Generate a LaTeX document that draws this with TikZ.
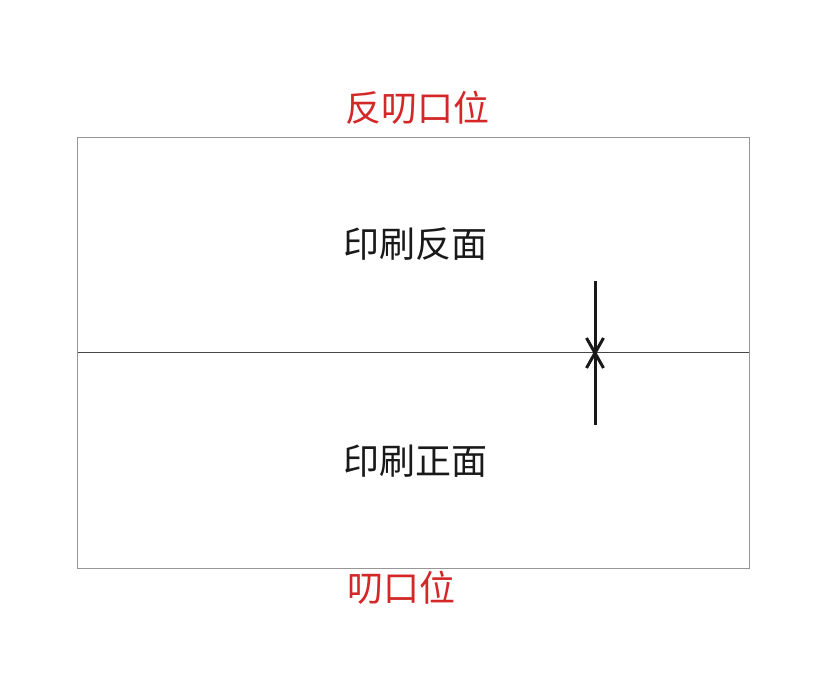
\documentclass[tikz,border=0pt]{standalone}
\usepackage{fontspec}
\newfontfamily\cjk{Noto Sans CJK SC}
\definecolor{redtxt}{RGB}{212,40,40}
\definecolor{boxgray}{RGB}{150,150,150}
\definecolor{midgray}{RGB}{70,70,70}
\definecolor{blk}{RGB}{25,25,25}
\begin{document}
\begin{tikzpicture}[x=1pt,y=-1pt,
  lbl/.style={font=\cjk\fontsize{36}{40}\selectfont, inner sep=0pt},
  redlbl/.style={lbl, text=redtxt},
  blklbl/.style={lbl, text=blk},
  stem/.style={line width=3pt, draw=blk},
  barb/.style={line width=3pt, draw=blk, line join=miter}]
\useasboundingbox (0,0) rectangle (831,700);
\draw[boxgray, line width=1pt] (77.5,137.5) rectangle (749,569);
\coordinate (ml) at (77.5,353);
\coordinate (mr) at (749,353);
\draw[midgray, line width=1pt] (ml) -- (mr);
\coordinate (top) at (595,281);
\coordinate (mid) at (595,353);
\coordinate (bot) at (595,425);
\draw[stem] (top) -- (mid);
\draw[stem] (bot) -- (mid);
\draw[barb] (mid) ++(-8.5,-15) -- (mid) -- ++(8.5,-15);
\draw[barb] (mid) ++(-8.5,15) -- (mid) -- ++(8.5,15);
\node[redlbl] (t1) at (417,108) {反叨口位};
\node[blklbl] (t2) at (415,244) {印刷反面};
\node[blklbl] (t3) at (415,461) {印刷正面};
\node[redlbl] (t4) at (401,588) {叨口位};
\end{tikzpicture}
\end{document}
